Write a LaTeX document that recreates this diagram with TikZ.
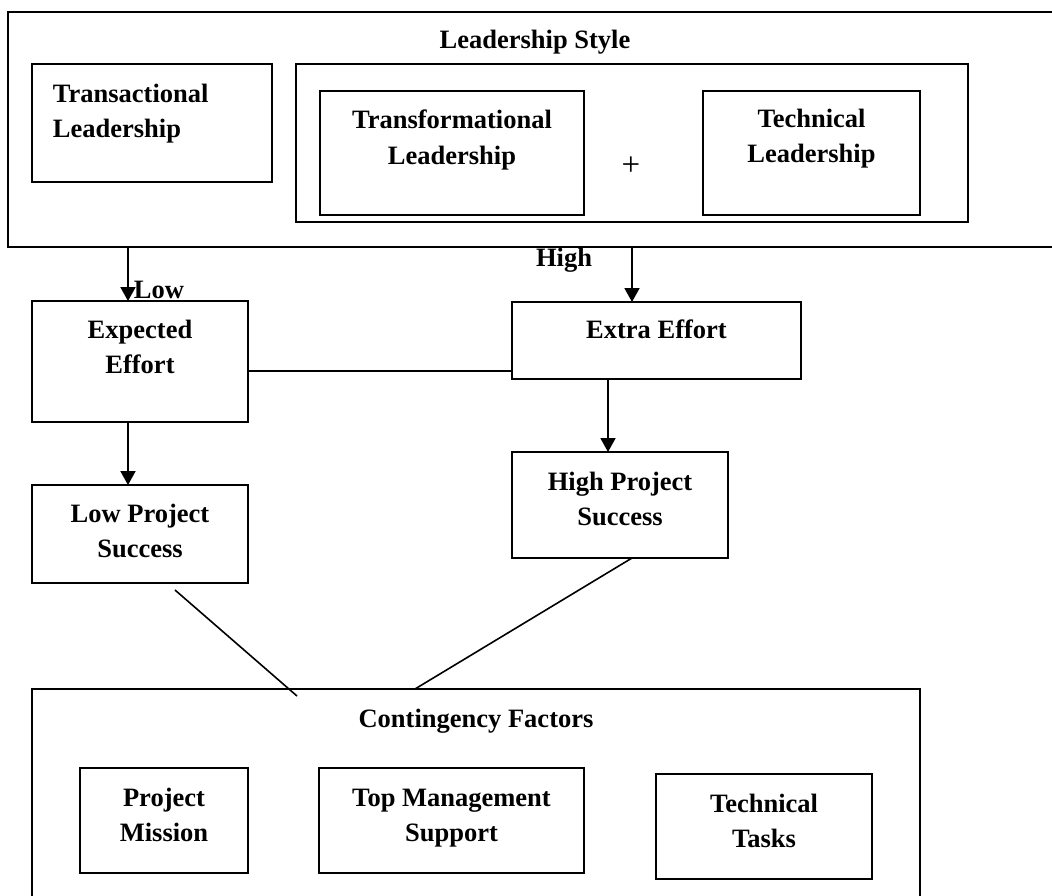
\documentclass[tikz,border=0pt]{standalone}
\usepackage{fontspec}
\setmainfont{Liberation Serif}
\usetikzlibrary{arrows.meta, positioning}

\begin{document}
\begin{tikzpicture}[
    x=1pt, y=-1pt,
    line width=1.9pt,
    every node/.style={font=\fontsize{26.5}{35.5}\selectfont\bfseries},
    box/.style={draw, line width=2.2pt, anchor=north west, inner sep=0pt, outer sep=0pt},
    lbl/.style={inner sep=0pt, align=center},
    arr/.style={-{Triangle[width=15pt,length=14pt]}},
]
\useasboundingbox (0,0) rectangle (1052,895);
\clip (0,0) rectangle (1052,895);

% leadership style
\node[box, minimum width=1054pt, minimum height=235pt] (lstyle) at (8,12) {};
\node[box, minimum width=240pt, minimum height=118pt] (trans) at (32,64) {};
\node[box, minimum width=672pt, minimum height=158pt] (group) at (296,64) {};
\node[box, minimum width=264pt, minimum height=124pt] (transf) at (320,91) {};
\node[box, minimum width=217pt, minimum height=124pt] (techl) at (703,91) {};

\node[lbl, below=17pt of lstyle.north] (lstyle-t) {Leadership Style};
\node[lbl, align=left, below right=19pt and 20pt of trans.north west] (trans-t) {Transactional\\Leadership};
\node[lbl, below=18pt of transf.north] (transf-t) {Transformational\\Leadership};
\node[lbl, below=17pt of techl.north] (techl-t) {Technical\\Leadership};
\node[font=\fontsize{33}{40}\selectfont, inner sep=0pt] (plus) at (631,166) {+};

% effort and success
\node[box, minimum width=216pt, minimum height=121pt] (expect) at (32,301) {};
\node[box, minimum width=289pt, minimum height=77pt] (extra) at (512,302) {};
\node[box, minimum width=216pt, minimum height=98pt] (lowps) at (32,485) {};
\node[box, minimum width=216pt, minimum height=106pt] (highps) at (512,452) {};

\node[lbl, below=18pt of expect.north] (expect-t) {Expected\\Effort};
\node[lbl, below=17pt of extra.north] (extra-t) {Extra Effort};
\node[lbl, below=18pt of lowps.north] (lowps-t) {Low Project\\Success};
\node[lbl, below=19pt of highps.north] (highps-t) {High Project\\Success};
\node[lbl, anchor=west] (low-t) at (133,290) {Low};
\node[lbl] (high-t) at (564,260) {High};

% contingency factors
\node[box, minimum width=888pt, minimum height=230pt] (cont) at (32,689) {};
\node[box, minimum width=168pt, minimum height=105pt] (mission) at (80,768) {};
\node[box, minimum width=265pt, minimum height=105pt] (topmgmt) at (319,768) {};
\node[box, minimum width=216pt, minimum height=105pt] (tasks) at (656,774) {};

\node[lbl, below=19pt of cont.north] (cont-t) {Contingency Factors};
\node[lbl, below=19pt of mission.north] (mission-t) {Project\\Mission};
\node[lbl, below=20pt of topmgmt.north] (topmgmt-t) {Top Management\\Support};
\node[lbl, below=19pt of tasks.north] (tasks-t) {Technical\\Tasks};

% connectors
\coordinate (lowx) at (128,0);
\coordinate (highx) at (608,0);
\coordinate (lowend) at (175,590);
\coordinate (lowmeet) at (297,696);
\coordinate (highmeet) at (415,689);
\draw[arr] (lowx |- lstyle.south) -- (lowx |- expect.north);
\draw[arr] (group.south |- lstyle.south) -- (group.south |- extra.north);
\draw ([yshift=-9.5pt]expect.east) -- ([yshift=-9.5pt]expect.east -| extra.west);
\draw[arr] (lowx |- expect.south) -- (lowx |- lowps.north);
\draw[arr] (highx |- extra.south) -- (highx |- highps.north);
\draw[line width=1.6pt] (lowend) -- (lowmeet);
\draw[line width=1.6pt] ([xshift=12pt]highps.south) -- (highmeet);
\end{tikzpicture}
\end{document}
